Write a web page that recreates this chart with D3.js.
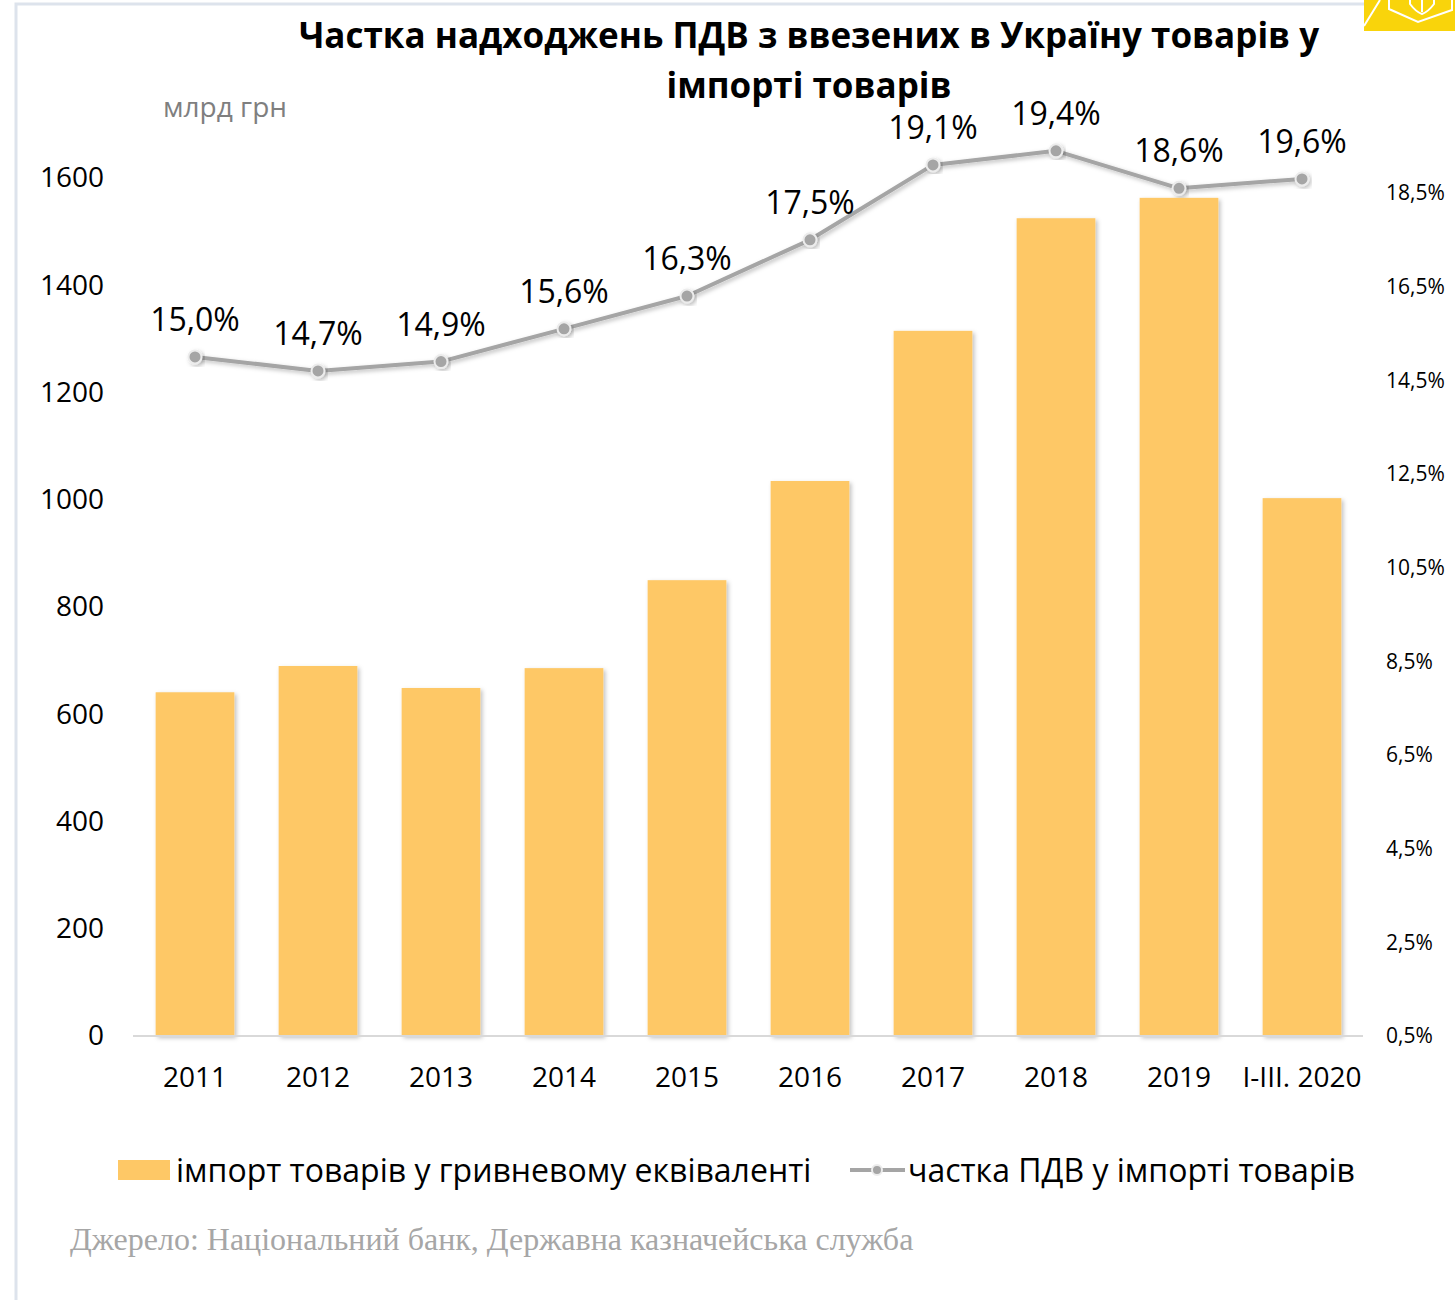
<!DOCTYPE html>
<html>
<head>
<meta charset="utf-8">
<script src="https://cdn.jsdelivr.net/npm/d3@7"></script>
<style>
    body { margin: 0; background: #fff; }
    text { font-family: "Open Sans", "Noto Sans", sans-serif; }
</style>
</head>
<body>
<svg id="chart" width="1455" height="1300"></svg>
<script>
// Data
let years = ["2011", "2012", "2013", "2014", "2015", "2016", "2017", "2018", "2019", "I-III. 2020"];
let imports = [641, 690, 649, 686, 850, 1035, 1315, 1525, 1563, 1003];
let vatShare = [15.0, 14.7, 14.9, 15.6, 16.3, 17.5, 19.1, 19.4, 18.6, 18.8];
let vatLabels = ["15,0%", "14,7%", "14,9%", "15,6%", "16,3%", "17,5%", "19,1%", "19,4%", "18,6%", "19,6%"];
let leftTicks = [0, 200, 400, 600, 800, 1000, 1200, 1400, 1600];
let rightTicks = [0.5, 2.5, 4.5, 6.5, 8.5, 10.5, 12.5, 14.5, 16.5, 18.5];

let barColor = "#fec866",
    lineColor = "#a5a5a5";

let svg = d3.select("#chart");

// Shadow for bars and markers
let defs = svg.append("defs");
defs.append("filter")
    .attr("id", "shadow")
    .attr("x", "-20%").attr("y", "-20%")
    .attr("width", "140%").attr("height", "140%")
    .append("feDropShadow")
    .attr("dx", 2).attr("dy", 2)
    .attr("stdDeviation", 2)
    .attr("flood-color", "#000")
    .attr("flood-opacity", 0.25);

// Frame lines
svg.append("path")
    .attr("d", "M16,1300 L16,4 L1365,4")
    .attr("fill", "none")
    .attr("stroke", "#dde3ec")
    .attr("stroke-width", 3);

// Logo corner
let logo = svg.append("g");
logo.append("rect")
    .attr("x", 1364).attr("y", 0)
    .attr("width", 91).attr("height", 31)
    .attr("fill", "#f9d40b");
logo.append("path")
    .attr("d", "M1364,26 L1380,0 M1389,0 L1389,9 L1418,22 L1452,10 L1452,0")
    .attr("fill", "none")
    .attr("stroke", "#fff")
    .attr("stroke-width", 2);
logo.append("path")
    .attr("d", "M1410,0 L1410,4 Q1416,12 1422,14 Q1428,12 1434,4 L1434,0")
    .attr("fill", "none")
    .attr("stroke", "#fff")
    .attr("stroke-width", 2);
logo.append("line")
    .attr("x1", 1422).attr("y1", 0).attr("x2", 1422).attr("y2", 12)
    .attr("stroke", "#fff").attr("stroke-width", 2);

// Scales
let x = d3.scaleBand()
    .domain(years)
    .range([133.5, 1363.5])
    .paddingInner(0.36)
    .paddingOuter(0.18);

let y = d3.scaleLinear()
    .domain([0, 1600])
    .range([1036, 178]);

let y2 = d3.scaleLinear()
    .domain([0.5, 18.5])
    .range([1036, 193]);

// Title
let title = svg.append("text")
    .attr("text-anchor", "middle")
    .attr("font-size", 35)
    .attr("font-weight", "bold")
    .attr("fill", "#000");
title.append("tspan").attr("x", 809).attr("y", 48)
    .text("Частка надходжень ПДВ з ввезених в Україну товарів у");
title.append("tspan").attr("x", 809).attr("y", 98)
    .text("імпорті товарів");

svg.append("text")
    .attr("x", 163).attr("y", 117)
    .attr("font-size", 28)
    .attr("fill", "#7f7f7f")
    .text("млрд грн");

// Left axis
let leftAxis = svg.append("g")
    .attr("transform", "translate(104,0)")
    .call(d3.axisLeft(y).tickValues(leftTicks).tickSize(0).tickPadding(0)
        .tickFormat(d3.format("d")));
leftAxis.select(".domain").remove();
leftAxis.selectAll("text")
    .attr("font-size", 28)
    .attr("fill", "#000")
    .style("font-family", "'Open Sans', sans-serif");

// Right axis
let rightAxis = svg.append("g")
    .attr("transform", "translate(1386,0)")
    .call(d3.axisRight(y2).tickValues(rightTicks).tickSize(0).tickPadding(0)
        .tickFormat(d => d3.format(".1f")(d).replace(".", ",") + "%"));
rightAxis.select(".domain").remove();
rightAxis.selectAll("text")
    .attr("font-size", 21)
    .attr("fill", "#000")
    .style("font-family", "'Open Sans', sans-serif");

// Bars
svg.append("g")
    .selectAll("rect")
    .data(imports)
    .join("rect")
    .attr("x", (d, i) => x(years[i]))
    .attr("y", d => y(d))
    .attr("width", x.bandwidth())
    .attr("height", d => y(0) - y(d))
    .attr("fill", barColor)
    .attr("filter", "url(#shadow)");

// Baseline
svg.append("line")
    .attr("x1", 133).attr("x2", 1363)
    .attr("y1", y(0)).attr("y2", y(0))
    .attr("stroke", "#d9d9d9")
    .attr("stroke-width", 2);

// X axis labels
let xAxis = svg.append("g")
    .attr("transform", "translate(0,1067)")
    .call(d3.axisBottom(x).tickSize(0).tickPadding(0));
xAxis.select(".domain").remove();
xAxis.selectAll("text")
    .attr("font-size", 28)
    .attr("fill", "#000")
    .attr("dy", "0.71em")
    .style("font-family", "'Open Sans', sans-serif");

// Line
let cx = (d, i) => x(years[i]) + x.bandwidth() / 2;
let line = d3.line()
    .x(cx)
    .y(d => y2(d));

svg.append("path")
    .datum(vatShare)
    .attr("d", line)
    .attr("fill", "none")
    .attr("stroke", lineColor)
    .attr("stroke-width", 4)
    .attr("stroke-linejoin", "round")
    .attr("filter", "url(#shadow)");

svg.append("g")
    .selectAll("circle")
    .data(vatShare)
    .join("circle")
    .attr("cx", cx)
    .attr("cy", d => y2(d))
    .attr("r", 6.5)
    .attr("fill", lineColor)
    .attr("stroke", "#ececec")
    .attr("stroke-width", 2)
    .attr("filter", "url(#shadow)");

// Data labels
svg.append("g")
    .selectAll("text")
    .data(vatShare)
    .join("text")
    .attr("x", cx)
    .attr("y", d => y2(d) - 26)
    .attr("text-anchor", "middle")
    .attr("font-size", 32)
    .attr("fill", "#000")
    .text((d, i) => vatLabels[i]);

// Legend
let legend = svg.append("g");
legend.append("rect")
    .attr("x", 118).attr("y", 1160)
    .attr("width", 52).attr("height", 20)
    .attr("fill", barColor);
legend.append("text")
    .attr("x", 176).attr("y", 1182)
    .attr("font-size", 32)
    .attr("fill", "#000")
    .text("імпорт товарів у гривневому еквіваленті");
legend.append("line")
    .attr("x1", 850).attr("x2", 905)
    .attr("y1", 1170).attr("y2", 1170)
    .attr("stroke", lineColor)
    .attr("stroke-width", 4);
legend.append("circle")
    .attr("cx", 877).attr("cy", 1170)
    .attr("r", 5)
    .attr("fill", lineColor)
    .attr("stroke", "#ececec")
    .attr("stroke-width", 2);
legend.append("text")
    .attr("x", 908).attr("y", 1182)
    .attr("font-size", 32)
    .attr("fill", "#000")
    .text("частка ПДВ у імпорті товарів");

// Source
svg.append("text")
    .attr("x", 70).attr("y", 1250)
    .attr("font-size", 32)
    .attr("fill", "#a6a6a6")
    .style("font-family", "'Liberation Serif', serif")
    .text("Джерело: Національний банк, Державна казначейська служба");
</script>
</body>
</html>
